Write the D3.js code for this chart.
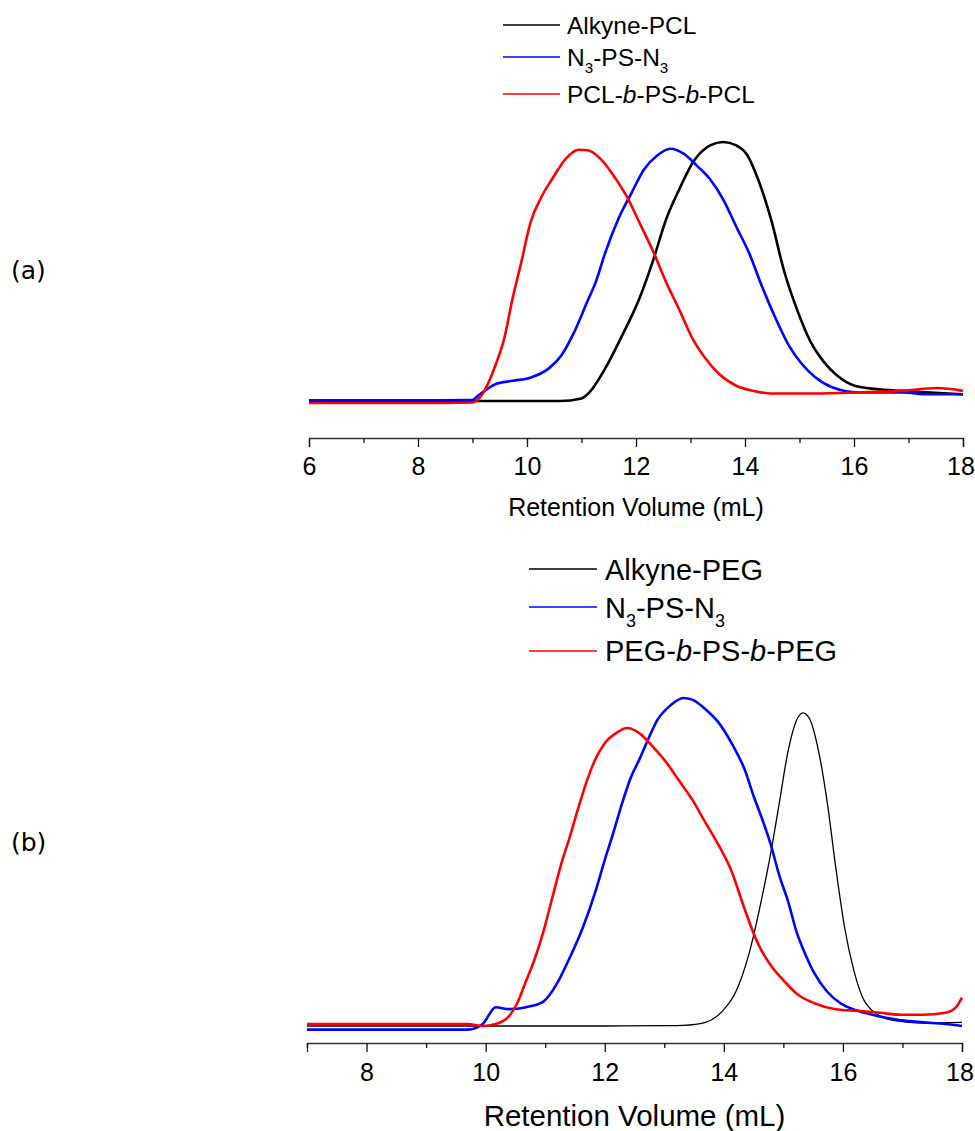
<!DOCTYPE html>
<html>
<head>
<meta charset="utf-8">
<script src="https://cdn.jsdelivr.net/npm/d3@7"></script>
<style>
  html, body { margin: 0; padding: 0; background: #fff; }
  svg { display: block; }
  text { font-family: "Liberation Sans", Arial, sans-serif; fill: #000; }
</style>
</head>
<body>
<svg id="chart" width="975" height="1131"></svg>
<script>
// ---- Panel (a): PCL system, retention volume (mL) vs normalised RI signal ----
const ticksA = [6, 7, 8, 9, 10, 11, 12, 13, 14, 15, 16, 17, 18];

const alkynePCLVol = [6, 7, 8, 9, 10, 10.6, 11.0, 11.11, 11.43, 11.75, 12.07, 12.31, 12.55, 12.80, 13.04, 13.36, 13.60, 13.84, 14.04, 14.24, 14.48, 14.72, 14.96, 15.20, 15.45, 15.69, 16.01, 16.41, 16.89, 17.4, 18];
const alkynePCLSig = [0, 0, 0, 0, 0, 0, 0.01, 0.026, 0.124, 0.255, 0.40, 0.54, 0.70, 0.82, 0.92, 0.987, 1.0, 0.987, 0.95, 0.856, 0.70, 0.50, 0.35, 0.23, 0.15, 0.098, 0.059, 0.046, 0.039, 0.033, 0.026];

const psAVol = [6, 7, 8, 9, 9.10, 9.42, 9.74, 10.06, 10.39, 10.63, 10.87, 11.11, 11.27, 11.43, 11.67, 11.91, 12.15, 12.39, 12.63, 12.88, 13.12, 13.36, 13.60, 13.84, 14.08, 14.32, 14.56, 14.80, 15.04, 15.29, 15.61, 16.09, 16.89, 17.37, 18];
const psASig = [0.003, 0.003, 0.003, 0.004, 0.02, 0.065, 0.078, 0.09, 0.124, 0.176, 0.268, 0.386, 0.464, 0.569, 0.70, 0.80, 0.895, 0.948, 0.974, 0.954, 0.908, 0.856, 0.778, 0.673, 0.569, 0.438, 0.32, 0.216, 0.144, 0.092, 0.052, 0.033, 0.033, 0.026, 0.026];

const pclBlockVol = [6, 7, 8, 9, 9.18, 9.42, 9.58, 9.74, 9.90, 10.06, 10.27, 10.47, 10.71, 10.95, 11.11, 11.35, 11.59, 11.83, 12.07, 12.31, 12.55, 12.80, 13.04, 13.28, 13.52, 13.84, 14.16, 14.48, 15.29, 16.09, 16.89, 17.53, 18];
const pclBlockSig = [-0.008, -0.008, -0.008, -0.006, 0.026, 0.137, 0.24, 0.40, 0.54, 0.686, 0.79, 0.86, 0.935, 0.97, 0.968, 0.935, 0.87, 0.79, 0.686, 0.58, 0.46, 0.35, 0.24, 0.163, 0.105, 0.059, 0.039, 0.029, 0.029, 0.033, 0.039, 0.05, 0.039];

// ---- Panel (b): PEG system ----
const ticksB = [7, 8, 9, 10, 11, 12, 13, 14, 15, 16, 17, 18];

const alkynePEGVol = [7, 8, 9, 10, 11, 12, 13, 13.32, 13.69, 13.98, 14.20, 14.42, 14.64, 14.79, 14.93, 15.08, 15.22, 15.33, 15.44, 15.59, 15.74, 15.88, 16.03, 16.18, 16.32, 16.54, 16.84, 17.35, 18];
const alkynePEGSig = [0, 0, 0, 0, 0, 0, 0.001, 0.002, 0.011, 0.046, 0.103, 0.217, 0.389, 0.526, 0.674, 0.834, 0.926, 0.949, 0.931, 0.834, 0.674, 0.48, 0.297, 0.171, 0.091, 0.04, 0.017, 0.009, 0.011];

const psBVol = [7, 8, 9, 9.7, 9.95, 10.17, 10.39, 10.68, 10.97, 11.19, 11.41, 11.63, 11.85, 12.00, 12.14, 12.29, 12.44, 12.59, 12.73, 12.88, 13.10, 13.32, 13.47, 13.69, 13.91, 14.13, 14.35, 14.50, 14.64, 14.79, 14.93, 15.08, 15.22, 15.37, 15.52, 15.74, 15.96, 16.25, 16.62, 16.98, 17.35, 17.72, 18];
const psBSig = [-0.011, -0.011, -0.011, -0.011, 0.006, 0.057, 0.051, 0.057, 0.074, 0.126, 0.206, 0.297, 0.411, 0.503, 0.583, 0.674, 0.754, 0.811, 0.869, 0.926, 0.971, 0.994, 0.989, 0.96, 0.92, 0.857, 0.777, 0.697, 0.629, 0.549, 0.457, 0.377, 0.286, 0.217, 0.16, 0.103, 0.069, 0.046, 0.029, 0.017, 0.011, 0.006, 0.0];

const pegBlockVol = [7, 8, 9, 9.7, 9.95, 10.17, 10.39, 10.53, 10.68, 10.83, 10.97, 11.12, 11.27, 11.41, 11.56, 11.70, 11.85, 12.00, 12.22, 12.37, 12.59, 12.81, 13.03, 13.25, 13.47, 13.69, 13.91, 14.13, 14.35, 14.57, 14.79, 15.01, 15.23, 15.52, 15.88, 16.25, 16.62, 16.98, 17.35, 17.72, 17.90, 18];
const pegBlockSig = [0.006, 0.006, 0.006, 0.006, 0.0, 0.006, 0.029, 0.069, 0.137, 0.206, 0.286, 0.389, 0.491, 0.571, 0.663, 0.743, 0.811, 0.857, 0.891, 0.903, 0.886, 0.846, 0.80, 0.743, 0.686, 0.617, 0.549, 0.469, 0.354, 0.251, 0.183, 0.137, 0.097, 0.069, 0.051, 0.046, 0.04, 0.034, 0.034, 0.04, 0.057, 0.086];

const seriesA = [
  { vol: alkynePCLVol, sig: alkynePCLSig, color: "#000000" },
  { vol: psAVol, sig: psASig, color: "#0000ff" },
  { vol: pclBlockVol, sig: pclBlockSig, color: "#ff0000" }
];
const seriesB = [
  { vol: alkynePEGVol, sig: alkynePEGSig, color: "#000000" },
  { vol: psBVol, sig: psBSig, color: "#0000ff" },
  { vol: pegBlockVol, sig: pegBlockSig, color: "#ff0000" }
];

// Legend labels as runs: [text, style] where style is "", "sub" or "i"
const legendA = [
  [["Alkyne-PCL", ""]],
  [["N", ""], ["3", "sub"], ["-PS-N", ""], ["3", "sub"]],
  [["PCL-", ""], ["b", "i"], ["-PS-", ""], ["b", "i"], ["-PCL", ""]]
];
const legendB = [
  [["Alkyne-PEG", ""]],
  [["N", ""], ["3", "sub"], ["-PS-N", ""], ["3", "sub"]],
  [["PEG-", ""], ["b", "i"], ["-PS-", ""], ["b", "i"], ["-PEG", ""]]
];

const svg = d3.select("#chart");

function drawPanel(cfg) {
  const g = svg.append("g");
  const x = d3.scaleLinear().domain(cfg.xDomain).range(cfg.xRange);
  const y = d3.scaleLinear().domain([0, 1]).range(cfg.yRange);

  // traces
  const line = d3.line()
    .x(d => x(d[0]))
    .y(d => y(d[1]))
    .curve(d3.curveMonotoneX);
  cfg.series.forEach((s, i) => {
    const pts = s.vol.map((v, k) => [v, s.sig[k]]);
    g.append("path")
      .datum(pts)
      .attr("fill", "none")
      .attr("stroke", s.color)
      .attr("stroke-width", cfg.widths[i])
      .attr("stroke-linejoin", "round")
      .attr("d", line);
  });

  // bottom axis: major ticks on even values (labelled), minor on odd
  const axis = d3.axisBottom(x)
    .tickValues(cfg.ticks)
    .tickFormat(d => d % 2 === 0 ? d : "")
    .tickSizeOuter(0)
    .tickSize(9)
    .tickPadding(cfg.tickPad);
  const ax = g.append("g")
    .attr("transform", `translate(0,${cfg.axisY})`)
    .call(axis);
  ax.select(".domain").attr("stroke", "#333").attr("stroke-width", 1.3);
  ax.selectAll(".tick line")
    .attr("stroke", "#111")
    .attr("stroke-width", 1.3)
    .attr("y2", d => d % 2 === 0 ? 9 : 5);
  ax.selectAll(".tick text")
    .style("font-family", '"Liberation Sans", Arial, sans-serif')
    .style("font-size", cfg.tickFont + "px")
    .attr("fill", "#000")
    .attr("dx", d => d === cfg.xDomain[1] ? -2.5 : 0);

  // axis title
  g.append("text")
    .attr("x", (cfg.xRange[0] + cfg.xRange[1]) / 2)
    .attr("y", cfg.titleY)
    .attr("text-anchor", "middle")
    .style("font-size", cfg.titleFont + "px")
    .text("Retention Volume (mL)");

  // legend
  cfg.legend.forEach((runs, i) => {
    const ly = cfg.legendLineY[i];
    g.append("line")
      .attr("x1", cfg.legendX[0]).attr("x2", cfg.legendX[1])
      .attr("y1", ly).attr("y2", ly)
      .attr("stroke", cfg.series[i].color)
      .attr("stroke-width", 1.4);
    const t = g.append("text")
      .attr("x", cfg.legendTextX)
      .attr("y", cfg.legendBaseY[i])
      .style("font-size", cfg.legendFont + "px");
    const shift = cfg.legendFont * 0.3;
    runs.forEach(([txt, st], k) => {
      const ts = t.append("tspan").text(txt);
      const prevSub = k > 0 && runs[k - 1][1] === "sub";
      if (st === "sub") {
        ts.style("font-size", (cfg.legendFont * 0.62) + "px").attr("dy", shift);
      } else {
        if (prevSub) ts.attr("dy", -shift);
        if (st === "i") ts.style("font-style", "italic");
      }
    });
  });
}

drawPanel({
  series: seriesA,
  widths: [2.6, 2.6, 2.6],
  xDomain: [6, 18], xRange: [309, 963],
  yRange: [401, 142],
  ticks: ticksA,
  axisY: 438, tickPad: 10, tickFont: 25,
  titleY: 516, titleFont: 25,
  legend: legendA,
  legendX: [503, 560], legendTextX: 567,
  legendLineY: [25, 57, 94], legendBaseY: [34, 66, 103],
  legendFont: 24.5
});

drawPanel({
  series: seriesB,
  widths: [1.3, 2.6, 2.6],
  xDomain: [7, 18], xRange: [307, 962],
  yRange: [1026, 696],
  ticks: ticksB,
  axisY: 1043, tickPad: 11, tickFont: 25,
  titleY: 1126, titleFont: 29.5,
  legend: legendB,
  legendX: [529, 597], legendTextX: 605,
  legendLineY: [569, 607, 651], legendBaseY: [580, 618, 661],
  legendFont: 29
});

// panel letters
svg.append("text").attr("x", 11).attr("y", 279)
  .style("font-family", '"DejaVu Sans", Verdana, sans-serif')
  .style("font-size", "25px").text("(a)");
svg.append("text").attr("x", 11).attr("y", 851)
  .style("font-family", '"DejaVu Sans", Verdana, sans-serif')
  .style("font-size", "25px").text("(b)");
</script>
</body>
</html>
